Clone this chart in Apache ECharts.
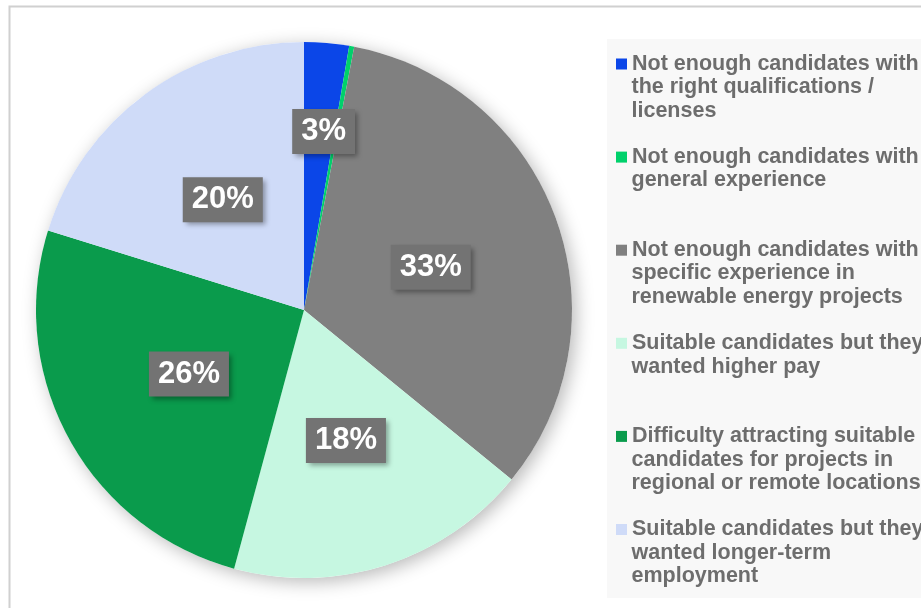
<!DOCTYPE html>
<html><head><meta charset="utf-8">
<script src="https://cdn.jsdelivr.net/npm/echarts@6/dist/echarts.min.js"></script>
<style>html,body{margin:0;padding:0;background:#fff}#c{width:921px;height:608px}</style>
</head><body><div id="c"></div>
<script>
const categories = [
  'Not enough candidates with the right qualifications / licenses',
  'Not enough candidates with general experience',
  'Not enough candidates with specific experience in renewable energy projects',
  'Suitable candidates but they wanted higher pay',
  'Difficulty attracting suitable candidates for projects in regional or remote locations',
  'Suitable candidates but they wanted longer-term employment'
];
const legendLines = [
  ['Not enough candidates with', 'the right qualifications /', 'licenses'],
  ['Not enough candidates with', 'general experience'],
  ['Not enough candidates with', 'specific experience in', 'renewable energy projects'],
  ['Suitable candidates but they', 'wanted higher pay'],
  ['Difficulty attracting suitable', 'candidates for projects in', 'regional or remote locations'],
  ['Suitable candidates but they', 'wanted longer-term', 'employment']
];
const values = [2.7, 0.3, 32.9, 18.3, 25.6, 20.2];
const colors = ['#0B46E8', '#00D16B', '#808080', '#C6F7E1', '#0A9B4C', '#CFDBF8'];

const FONT = '"Liberation Sans", Arial, sans-serif';
const rich = {
  t: { fontFamily: FONT, fontWeight: 'bold', fontSize: 21.5, color: '#6d6d6d', lineHeight: 23.3 },
  g: { width: 5 },
  p: { width: 15.5 }
};
colors.forEach((c, i) => { rich['m' + i] = { width: 11, height: 11, backgroundColor: c }; });

const pieData = categories.map((name, i) => {
  const d = { name, value: values[i] };
  if (values[i] < 1) d.label = { show: false };
  if (i === 0) d.label = { offset: [8, -42] };
  if (i === 4) d.label = { offset: [5, -2] };
  if (i === 2) d.label = { offset: [-2, 4] };
  return d;
});

const chart = echarts.init(document.getElementById('c'), null, { renderer: 'canvas' });
chart.setOption({
  animation: false,
  backgroundColor: '#ffffff',
  color: colors,
  graphic: [
    { type: 'rect', left: 7, top: 4, shape: { width: 1000, height: 1000 },
      style: { fill: 'none', stroke: '#d0d0d0', lineWidth: 2 }, z: -10 },
    { type: 'rect', left: 607, top: 39, shape: { width: 400, height: 559 },
      style: { fill: '#f8f8f8' }, z: -9 }
  ],
  legend: {
    orient: 'vertical',
    left: 611,
    top: 53,
    padding: 0,
    itemWidth: 0,
    itemHeight: 0,
    itemGap: 24.5,
    selectedMode: false,
    data: categories,
    formatter: name => {
      const i = categories.indexOf(name);
      const L = legendLines[i].slice();
      while (L.length < 3) L.push(' ');
      return L.map((l, k) => (k === 0 ? `{m${i}|}{g|}` : '{p|}') + `{t|${l}}`).join('\n');
    },
    textStyle: { rich: rich, fontFamily: FONT }
  },
  series: [
    {
      type: 'pie', silent: true, z: 1,
      center: [304, 310], radius: 268,
      label: { show: false }, labelLine: { show: false },
      itemStyle: { color: '#ffffff', borderWidth: 0, shadowBlur: 18, shadowColor: 'rgba(0,0,0,0.28)', shadowOffsetX: 4, shadowOffsetY: 4 },
      data: [{ name: '', value: 1 }]
    },
    {
      type: 'pie', z: 2,
      center: [304, 310], radius: 268,
      startAngle: 90, clockwise: true,
      avoidLabelOverlap: false,
      emphasis: { disabled: true },
      itemStyle: { borderWidth: 0 },
      labelLine: { show: false },
      label: {
        show: true, position: 'inside',
        formatter: p => Math.round(p.value) + '%',
        fontFamily: FONT, fontWeight: 'bold', fontSize: 31, color: '#ffffff',
        lineHeight: 33, padding: [6, 9],
        backgroundColor: '#737373',
        shadowColor: 'rgba(0,0,0,0.35)', shadowBlur: 5, shadowOffsetX: 3, shadowOffsetY: 3
      },
      data: pieData
    }
  ]
});
</script></body></html>
